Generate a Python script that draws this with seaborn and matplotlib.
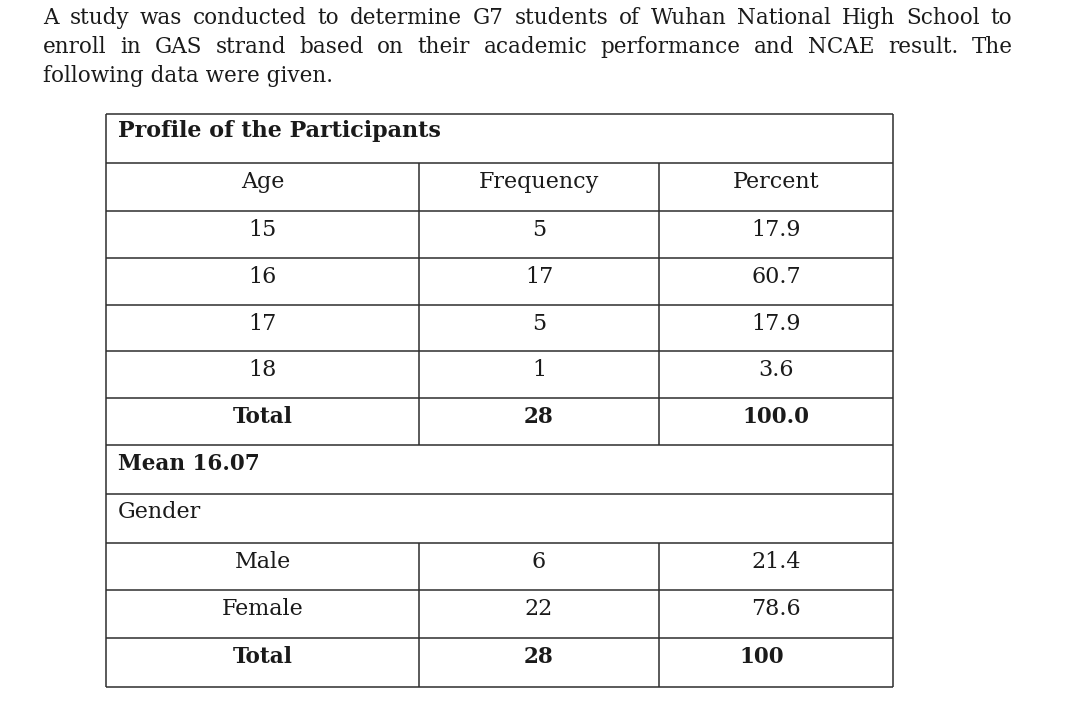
import matplotlib
matplotlib.use("Agg")
import matplotlib.pyplot as plt
import seaborn as sns

# ---- data ----
intro_lines = [
    "A study was conducted to determine G7 students of Wuhan National High School to",
    "enroll in GAS strand based on their academic performance and NCAE result. The",
    "following data were given.",
]
table_title = "Profile of the Participants"
headers = ["Age", "Frequency", "Percent"]
ages = ["15", "16", "17", "18"]
age_freq = [5, 17, 5, 1]
age_pct = ["17.9", "60.7", "17.9", "3.6"]
age_total = ["Total", "28", "100.0"]
mean_age = "16.07"
gender_label = "Gender"
genders = ["Male", "Female"]
gender_freq = [6, 22]
gender_pct = ["21.4", "78.6"]
gender_total = ["Total", "28", "100"]

sns.set_theme(style="white")
plt.rcParams["font.family"] = ["DejaVu Serif"]

fig = plt.figure(figsize=(10.8, 7.08), dpi=100)
ax = fig.add_axes([0, 0, 1, 1])
ax.set_xlim(0, 1080)
ax.set_ylim(708, 0)
ax.axis("off")

ink = "#1a1a1a"
body = dict(fontsize=16, color=ink)
bold = dict(fontsize=15.5, color=ink, fontweight="bold")
para = dict(fontsize=15.5, color=ink)

# ---- intro paragraph (justified like the document) ----
def justify(words, x0, x1, y, **kw):
    texts = [ax.text(x0, y, w, va="baseline", ha="left", **kw) for w in words]
    fig.canvas.draw()
    r = fig.canvas.get_renderer()
    widths = [t.get_window_extent(r).width for t in texts]
    gap = (x1 - x0 - sum(widths)) / (len(words) - 1)
    x = x0
    for t, w in zip(texts, widths):
        t.set_x(x)
        x += w + gap

justify(intro_lines[0].split(), 43, 1012, 24, **para)
justify(intro_lines[1].split(), 43, 1013, 53, **para)
ax.text(43, 82, intro_lines[2], va="baseline", ha="left", **para)

# ---- table grid ----
rows = [114, 163, 211, 258, 305, 351, 398, 445, 494, 543, 590, 638, 687]
cols = [106, 419, 659, 893]
line_kw = dict(color="#2e2e2e", lw=1.1)
ax.hlines(rows, cols[0], cols[-1], **line_kw)
ax.vlines([cols[0], cols[-1]], rows[0], rows[-1], **line_kw)
ax.vlines(cols[1:3], rows[1], rows[7], **line_kw)
ax.vlines(cols[1:3], rows[9], rows[12], **line_kw)

centers = [(cols[i] + cols[i + 1]) / 2 for i in range(3)]

def row_text(r, cells, style=body, xs=None):
    xs = xs or centers
    for x, s in zip(xs, cells):
        ax.text(x, rows[r] + 25, str(s), ha="center", va="baseline", **style)

ax.text(118, rows[0] + 23, table_title, ha="left", va="baseline",
        **dict(bold, fontsize=16))
row_text(1, headers)
for i, (a, f, p) in enumerate(zip(ages, age_freq, age_pct)):
    row_text(2 + i, [a, f, p])
row_text(6, age_total, style=bold)
ax.text(118, rows[7] + 25, "Mean " + mean_age, ha="left", va="baseline", **bold)
ax.text(118, rows[8] + 24, gender_label, ha="left", va="baseline", **body)
for i, (g, f, p) in enumerate(zip(genders, gender_freq, gender_pct)):
    row_text(9 + i, [g, f, p])
row_text(11, gender_total, style=bold, xs=[centers[0], centers[1], 762])

fig.savefig("out.png", dpi=100, facecolor="white")
